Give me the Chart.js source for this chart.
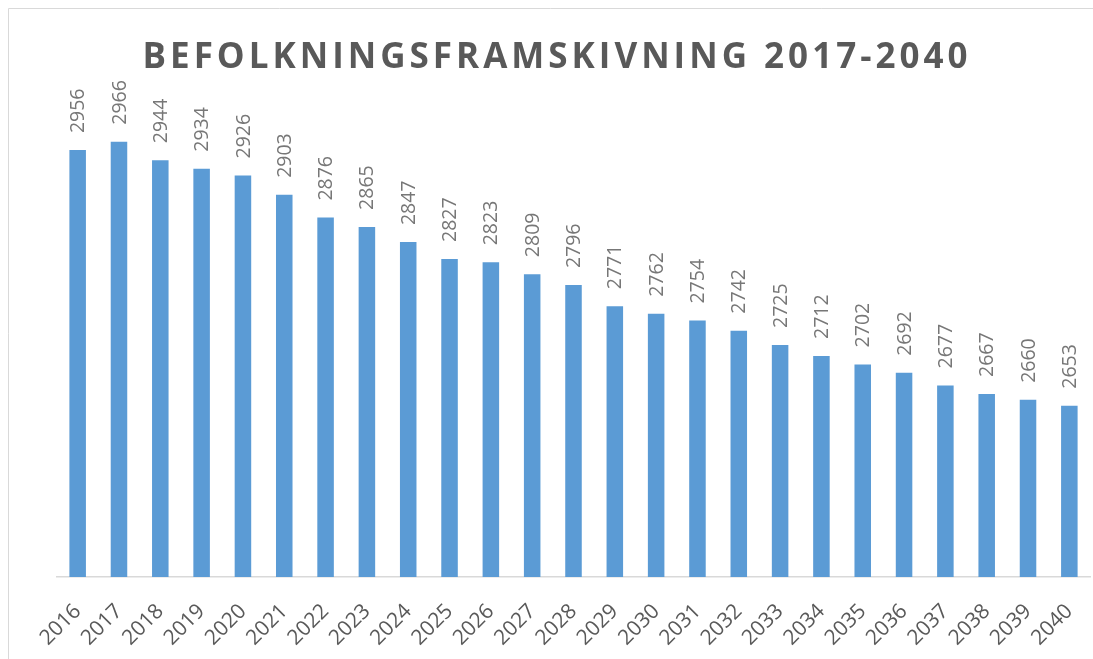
<!DOCTYPE html>
<html>
<head>
<meta charset="utf-8">
<script src="https://cdn.jsdelivr.net/npm/chart.js@4.4.0/dist/chart.umd.min.js"></script>
<style>
html, body { margin: 0; padding: 0; background: #fff; }
#wrap { position: relative; width: 1093px; height: 659px; }
</style>
</head>
<body>
<div id="wrap"><canvas id="chart" width="1093" height="659"></canvas></div>
<script>
// Data
const years = ['2016', '2017', '2018', '2019', '2020', '2021', '2022', '2023', '2024', '2025',
    '2026', '2027', '2028', '2029', '2030', '2031', '2032', '2033', '2034', '2035',
    '2036', '2037', '2038', '2039', '2040'];
const population = [2956, 2966, 2944, 2934, 2926, 2903, 2876, 2865, 2847, 2827,
    2823, 2809, 2796, 2771, 2762, 2754, 2742, 2725, 2712, 2702,
    2692, 2677, 2667, 2660, 2653];
const titleText = 'BEFOLKNINGSFRAMSKIVNING 2017-2040';

// Ram runt diagrammet (som i Excel)
const frame = {
    id: 'frame',
    beforeDraw(chart) {
        const ctx = chart.ctx;
        ctx.save();
        ctx.strokeStyle = '#d9d9d9';
        ctx.lineWidth = 1;
        ctx.beginPath();
        ctx.moveTo(8.5, chart.height);
        ctx.lineTo(8.5, 8.5);
        ctx.lineTo(chart.width, 8.5);
        ctx.stroke();
        ctx.restore();
    }
};

// Titel med spärrad text
const spacedTitle = {
    id: 'spacedTitle',
    afterDraw(chart) {
        const ctx = chart.ctx;
        ctx.save();
        ctx.font = 'bold 35px "Open Sans"';
        ctx.letterSpacing = '4px';
        ctx.fillStyle = '#595959';
        ctx.textAlign = 'center';
        ctx.textBaseline = 'alphabetic';
        ctx.fillText(titleText, 557, 68);
        ctx.restore();
    }
};

// Värden ovanför staplarna, roterade 90 grader
const barLabels = {
    id: 'barLabels',
    afterDatasetsDraw(chart) {
        const ctx = chart.ctx;
        const meta = chart.getDatasetMeta(0);
        ctx.save();
        ctx.font = '19.5px "Open Sans"';
        ctx.fillStyle = '#777777';
        ctx.textAlign = 'left';
        ctx.textBaseline = 'middle';
        meta.data.forEach((bar, i) => {
            ctx.save();
            ctx.translate(bar.x + 1, bar.y - 17);
            ctx.rotate(-Math.PI / 2);
            ctx.fillText(String(population[i]), 0, 0);
            ctx.restore();
        });
        ctx.restore();
    }
};

new Chart(document.getElementById('chart'), {
    type: 'bar',
    data: {
        labels: years,
        datasets: [{
            data: population,
            backgroundColor: '#5b9bd5',
            borderWidth: 0,
            barPercentage: 0.4,
            categoryPercentage: 1.0
        }]
    },
    options: {
        responsive: false,
        animation: false,
        devicePixelRatio: 1,
        layout: { padding: { left: 57, right: 3, top: 113, bottom: 0 } },
        plugins: {
            legend: { display: false },
            title: { display: false },
            tooltip: { enabled: false }
        },
        scales: {
            x: {
                grid: { display: false },
                border: { display: true, color: '#d9d9d9', width: 1.5 },
                ticks: {
                    color: '#595959',
                    font: { family: 'Open Sans', size: 21 },
                    maxRotation: 45,
                    minRotation: 45,
                    autoSkip: false,
                    padding: 14
                },
                afterFit(scale) {
                    scale.height = 82;
                    scale.paddingLeft = 0;
                    scale.paddingRight = 0;
                }
            },
            y: {
                display: false,
                min: 2450,
                max: 3000
            }
        }
    },
    plugins: [frame, spacedTitle, barLabels]
});
</script>
</body>
</html>
